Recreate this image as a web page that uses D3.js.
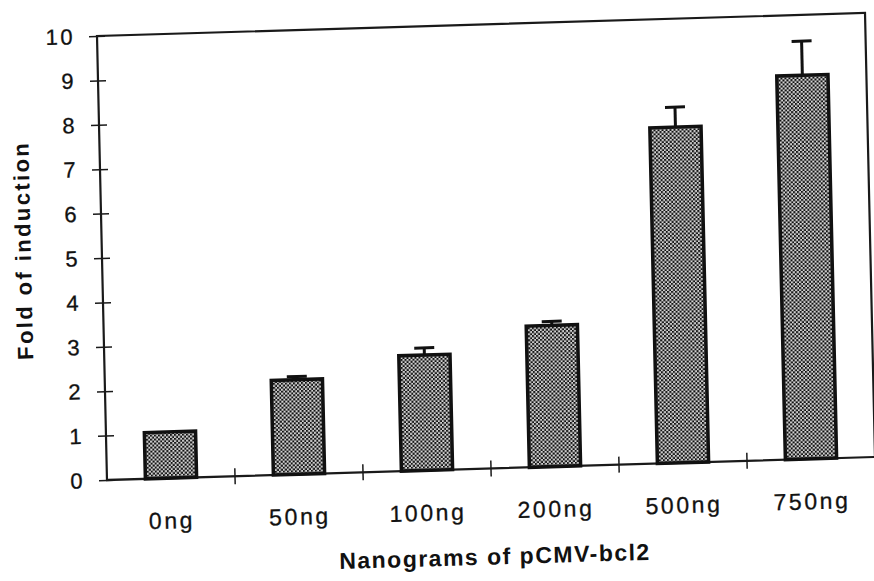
<!DOCTYPE html>
<html>
<head>
<meta charset="utf-8">
<script src="https://d3js.org/d3.v7.min.js"></script>
<style>
  body { margin: 0; background: #fff; }
  text { font-family: "Liberation Sans", Arial, Helvetica, sans-serif; fill: #111; }
</style>
</head>
<body>
<svg id="chart"></svg>
<script>
const categories = ['0ng', '50ng', '100ng', '200ng', '500ng', '750ng'];
const foldValues = [1.04, 2.13, 2.6, 3.18, 7.56, 8.64];
const errorValues = [0, 0.07, 0.16, 0.09, 0.45, 0.77];
const yTicks = [0, 1, 2, 3, 4, 5, 6, 7, 8, 9, 10];

const initWidth = 874;
const initHeight = 581;
const plotWidth = 768;
const plotHeight = 444;

const svg = d3.select('#chart')
  .attr('width', initWidth)
  .attr('height', initHeight);

// checkered fill, like the scanned halftone
const defs = svg.append('defs');
const pat = defs.append('pattern')
  .attr('id', 'checker')
  .attr('width', 4)
  .attr('height', 4)
  .attr('patternUnits', 'userSpaceOnUse');
pat.append('rect').attr('width', 4).attr('height', 4).attr('fill', '#d4d4d4');
pat.append('rect').attr('width', 2).attr('height', 2).attr('fill', '#111');
pat.append('rect').attr('x', 2).attr('y', 2).attr('width', 2).attr('height', 2).attr('fill', '#111');

// the scan is slightly tilted, so the whole plot sits in a skewed frame
const g = svg.append('g')
  .attr('transform', 'matrix(1,-0.03,0.0225,1,97,36)');

const x = d3.scaleBand()
  .domain(categories)
  .range([0, plotWidth])
  .paddingInner(0.6)
  .paddingOuter(0.3);

const y = d3.scaleLinear()
  .domain([0, 10])
  .range([plotHeight, 0]);

// ===========================================================================
//      frame + axes
// ===========================================================================
g.append('rect')
  .attr('width', plotWidth)
  .attr('height', plotHeight)
  .attr('fill', 'none')
  .attr('stroke', '#1a1a1a')
  .attr('stroke-width', 2.2);

const yAxis = g.append('g')
  .call(d3.axisLeft(y).tickValues(yTicks).tickFormat(d3.format('d')).tickSize(0).tickPadding(22));
yAxis.select('.domain').remove();
yAxis.selectAll('.tick line')
  .attr('x1', -8)
  .attr('x2', 8)
  .attr('stroke', '#1a1a1a')
  .attr('stroke-width', 1.5);
yAxis.selectAll('.tick text')
  .attr('font-size', 22)
  .attr('letter-spacing', 2.5)
  .attr('stroke', '#111')
  .attr('stroke-width', 0.3)
  .style('font-family', '"Liberation Sans", Arial, sans-serif')
  .attr('fill', '#111');

const xAxis = g.append('g')
  .attr('transform', `translate(0,${plotHeight})`)
  .call(d3.axisBottom(x).tickSize(0).tickPadding(34));
xAxis.select('.domain').remove();
xAxis.selectAll('.tick text')
  .attr('font-size', 23)
  .attr('letter-spacing', 2.6)
  .attr('stroke', '#111')
  .attr('stroke-width', 0.3)
  .style('font-family', '"Liberation Sans", Arial, sans-serif')
  .attr('fill', '#111');

// category separators crossing the baseline
const step = x.step();
g.append('g')
  .selectAll('line')
  .data(categories.slice(1))
  .enter()
  .append('line')
  .attr('x1', d => x(d) - (step - x.bandwidth()) / 2)
  .attr('x2', d => x(d) - (step - x.bandwidth()) / 2)
  .attr('y1', plotHeight - 8)
  .attr('y2', plotHeight + 8)
  .attr('stroke', '#1a1a1a')
  .attr('stroke-width', 1.5);

// ===========================================================================
//      bars + error bars
// ===========================================================================
const bars = g.append('g')
  .selectAll('g')
  .data(categories.map((c, i) => ({ cat: c, value: foldValues[i], err: errorValues[i] })))
  .enter()
  .append('g');

bars.filter(d => d.err > 0)
  .append('line')
  .attr('x1', d => x(d.cat) + x.bandwidth() / 2)
  .attr('x2', d => x(d.cat) + x.bandwidth() / 2)
  .attr('y1', d => y(d.value))
  .attr('y2', d => y(d.value + d.err))
  .attr('stroke', '#111')
  .attr('stroke-width', 3);

bars.filter(d => d.err > 0)
  .append('line')
  .attr('x1', d => x(d.cat) + x.bandwidth() / 2 - 10)
  .attr('x2', d => x(d.cat) + x.bandwidth() / 2 + 10)
  .attr('y1', d => y(d.value + d.err))
  .attr('y2', d => y(d.value + d.err))
  .attr('stroke', '#111')
  .attr('stroke-width', 3);

bars.append('rect')
  .attr('x', d => x(d.cat))
  .attr('y', d => y(d.value))
  .attr('width', x.bandwidth())
  .attr('height', d => plotHeight - y(d.value))
  .attr('fill', 'url(#checker)')
  .attr('stroke', '#111')
  .attr('stroke-width', 3.5);

// ===========================================================================
//      titles
// ===========================================================================
g.append('text')
  .attr('transform', `translate(-71,${plotHeight / 2 - 10}) rotate(-90)`)
  .attr('text-anchor', 'middle')
  .attr('font-size', 22)
  .attr('font-weight', 'bold')
  .attr('letter-spacing', 2.4)
  .text('Fold of induction');

g.append('text')
  .attr('x', plotWidth / 2 + 2)
  .attr('y', plotHeight + 96)
  .attr('text-anchor', 'middle')
  .attr('font-size', 23)
  .attr('font-weight', 'bold')
  .attr('letter-spacing', 1.5)
  .text('Nanograms of pCMV-bcl2');
</script>
</body>
</html>
